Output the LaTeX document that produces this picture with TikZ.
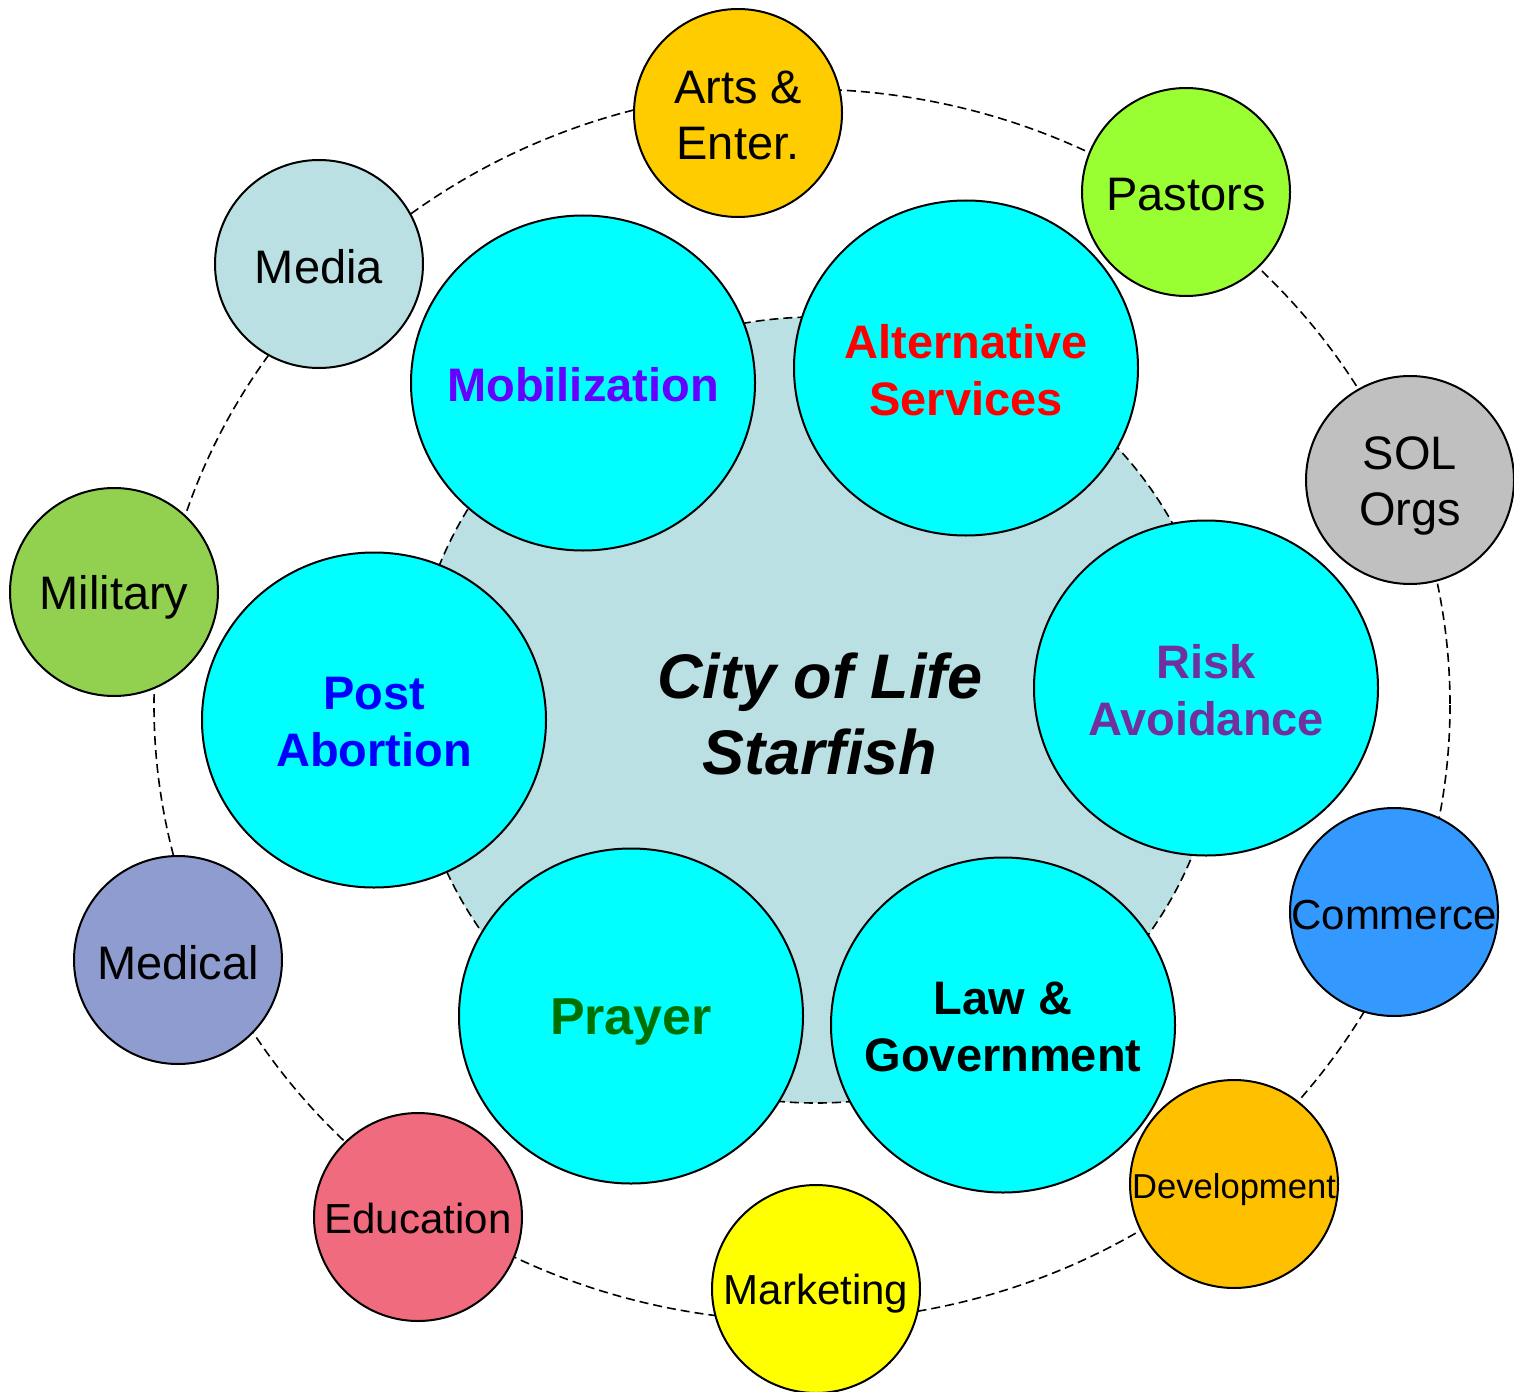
\documentclass[tikz,border=0pt]{standalone}
\usepackage{fontspec}
\setmainfont{Liberation Sans}
\usetikzlibrary{shapes.geometric}
\definecolor{hubfill}{HTML}{BAE0E3}
\definecolor{corefill}{HTML}{00FFFF}
\definecolor{artsfill}{HTML}{FFCC00}
\definecolor{pastorsfill}{HTML}{99FF33}
\definecolor{solfill}{HTML}{C0C0C0}
\definecolor{commercefill}{HTML}{3399FF}
\definecolor{devfill}{HTML}{FFC000}
\definecolor{marketfill}{HTML}{FFFF00}
\definecolor{edufill}{HTML}{F06B7D}
\definecolor{medfill}{HTML}{8E9CD0}
\definecolor{milfill}{HTML}{92D050}
\definecolor{mediafill}{HTML}{BAE0E3}
\definecolor{mobtext}{HTML}{6600FF}
\definecolor{alttext}{HTML}{FF0000}
\definecolor{risktext}{HTML}{7030A0}
\definecolor{prayertext}{HTML}{007000}
\definecolor{posttext}{HTML}{0000FF}
\begin{document}
\begin{tikzpicture}[x=0.5pt,y=-0.5pt,
  outerbubble/.style={circle,draw=black,line width=1pt,minimum size=104pt,inner sep=0pt},
  outerlabel/.style={inner sep=0pt,align=center,font=\fontsize{23.5}{28}\selectfont},
  smalltext/.style={font=\fontsize{21}{25}\selectfont},
  corebubble/.style={ellipse,draw=black,line width=1pt,fill=corefill,minimum width=172pt,minimum height=167.5pt,inner sep=0pt},
  corelabel/.style={inner sep=0pt,align=center,font=\fontsize{23.5}{28.5}\selectfont\bfseries},
  ringline/.style={draw=black,line width=0.8pt,dash pattern=on 4.5pt off 2.5pt}]
\useasboundingbox (0,0) rectangle (1514,1391);

% outer dashed ring
\draw[ringline] (802,705) ellipse [x radius=648, y radius=616];

% central hub
\draw[ringline,fill=hubfill] (816,710) ellipse [x radius=405, y radius=393];
\node[align=center,font=\fontsize{31.5}{38}\selectfont\bfseries\itshape] (hub) at (820,714) {City of Life\\Starfish};

% core bubbles
\node[corebubble] (mob) at (583,383) {};
\node[corelabel,text=mobtext] (mobtxt) at ([yshift=-1pt]mob.center) {Mobilization};
\node[corebubble] (alt) at (966,368) {};
\node[corelabel,text=alttext] (alttxt) at ([yshift=-1pt]alt.center) {Alternative\\Services};
\node[corebubble] (risk) at (1206,688) {};
\node[corelabel,text=risktext] (risktxt) at ([yshift=-1pt]risk.center) {Risk\\Avoidance};
\node[corebubble] (law) at (1003,1025) {};
\node[corelabel,text=black] (lawtxt) at ([yshift=-1pt]law.center) {Law \&\\Government};
\node[corebubble] (prayer) at (631,1016) {};
\node[corelabel,text=prayertext,font=\fontsize{26}{30}\selectfont\bfseries] (prayertxt) at ([yshift=-3pt]prayer.center) {Prayer};
\node[corebubble] (post) at (374,720) {};
\node[corelabel,text=posttext] (posttxt) at ([yshift=-1pt]post.center) {Post\\Abortion};

% outer bubbles
\node[outerbubble,fill=artsfill] (arts) at (738,113) {};
\node[outerlabel] (artstxt) at ([yshift=-1pt]arts.center) {Arts \&\\Enter.};
\node[outerbubble,fill=pastorsfill] (pastors) at (1186,192) {};
\node[outerlabel] (pastorstxt) at ([yshift=-1.5pt]pastors.center) {Pastors};
\node[outerbubble,fill=solfill] (sol) at (1410,480) {};
\node[outerlabel] (soltxt) at ([yshift=-3pt]sol.center) {SOL\\Orgs};
\node[outerbubble,fill=commercefill] (commerce) at (1394,912) {};
\node[outerlabel,smalltext] (commercetxt) at ([yshift=-1.5pt]commerce.center) {Commerce};
\node[outerbubble,fill=devfill] (dev) at (1234,1184) {};
\node[outerlabel,font=\fontsize{17.3}{21}\selectfont] (devtxt) at ([yshift=-3pt]dev.center) {Development};
\node[outerbubble,fill=marketfill] (market) at (816,1289) {};
\node[outerlabel,smalltext] (markettxt) at ([yshift=-2.5pt]market.center) {Marketing};
\node[outerbubble,fill=edufill] (edu) at (418,1217) {};
\node[outerlabel,smalltext] (edutxt) at ([yshift=-0.5pt]edu.center) {Education};
\node[outerbubble,fill=medfill] (med) at (178,960) {};
\node[outerlabel] (medtxt) at ([yshift=-1.5pt]med.center) {Medical};
\node[outerbubble,fill=milfill] (mil) at (114,592) {};
\node[outerlabel] (miltxt) at ([yshift=-2.5pt]mil.center) {Military};
\node[outerbubble,fill=mediafill] (media) at (319,264) {};
\node[outerlabel] (mediatxt) at ([yshift=-1.5pt]media.center) {Media};
\end{tikzpicture}
\end{document}
